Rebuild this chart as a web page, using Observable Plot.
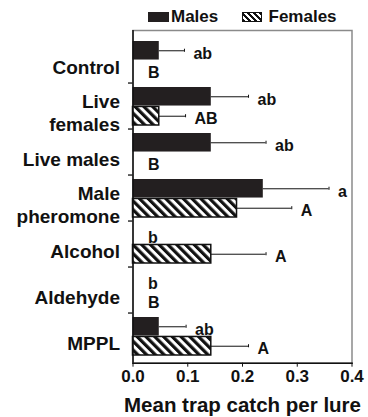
<!DOCTYPE html>
<html><head><meta charset="utf-8">
<script src="https://cdn.jsdelivr.net/npm/d3@7"></script>
<script src="https://cdn.jsdelivr.net/npm/@observablehq/plot@0.6"></script>
<style>
body{margin:0;background:#fff;font-family:"Liberation Sans",Arial,Helvetica,sans-serif;}
#wrap{position:relative;width:368px;height:417px;}
#legend{position:absolute;top:0;left:0;width:368px;height:30px;font-weight:bold;font-size:17px;color:#111;}
.item{position:absolute;top:7px;height:20px;display:flex;align-items:center;}
.sw{display:inline-block;width:21px;height:10px;margin-right:2px;box-sizing:border-box;}
</style></head><body>
<div id="wrap"><div id="legend"></div></div>
<script>
const categories = ["Control","Live females","Live males","Male pheromone","Alcohol","Aldehyde","MPPL"];
const categoryLabels = ["Control","Live\nfemales","Live males","Male\npheromone","Alcohol","Aldehyde","MPPL"];
const series = ["Males","Females"];
const maleMean = [0.048, 0.143, 0.143, 0.238, 0, 0, 0.048];
const maleErr  = [0.046, 0.068, 0.100, 0.120, 0, 0, 0.049];
const femaleMean = [0, 0.048, 0, 0.190, 0.143, 0, 0.143];
const femaleErr  = [0, 0.048, 0, 0.100, 0.100, 0, 0.068];
const maleLetters = ["ab","ab","ab","a","b","b","ab"];
const femaleLetters = ["B","AB","B","A","A","B","A"];
const xTicks = [0, 0.1, 0.2, 0.3, 0.4];
const xLabel = "Mean trap catch per lure";

const males = categories.map((c,i)=>({cat:c, mean:maleMean[i], err:maleErr[i], letter:maleLetters[i]}));
const females = categories.map((c,i)=>({cat:c, mean:femaleMean[i], err:femaleErr[i], letter:femaleLetters[i]}));
const labelOf = new Map(categories.map((c,i)=>[c, categoryLabels[i]]));

const W = 368, H = 417, mL = 132.5, mR = 16.5, mT = 30, mB = 54.3, inTop = 4.2;
const BW = (H - mB - mT - inTop) / categories.length;
const pad = 4, barH = (BW - 2*pad) / 2;
const off = barH / 2; // offset of each bar centre from band centre
const capH = 4;
const end = d => d.mean + d.err;

const svg = Plot.plot({
  width: W, height: H,
  marginLeft: mL, marginRight: mR, marginTop: mT, marginBottom: mB,
  style: {fontFamily: '"Liberation Sans", Arial, sans-serif', fontWeight: "bold", fontSize: "16px", color: "#111"},
  x: {domain: [0, 0.4]},
  y: {domain: categories, padding: 0, insetTop: inTop, axis: null, label: null},
  marks: [
    Plot.frame({stroke: "#8a8a8a", strokeWidth: 1.5}),
    Plot.barX(males, {y: "cat", x: "mean", fill: "#231f20", insetTop: pad, insetBottom: pad + barH}),
    Plot.barX(females.filter(d => d.mean > 0), {y: "cat", x: "mean", fill: "url(#hatch)", stroke: "#111", strokeWidth: 1.5, insetTop: pad + barH, insetBottom: pad}),
    Plot.ruleY(males.filter(d => d.err > 0), {y: "cat", x1: "mean", x2: end, dy: -off, stroke: "#111", strokeWidth: 1}),
    Plot.ruleY(females.filter(d => d.err > 0), {y: "cat", x1: "mean", x2: end, dy: off, stroke: "#111", strokeWidth: 1}),
    Plot.tickX(males.filter(d => d.err > 0), {y: "cat", x: end, stroke: "#111", strokeWidth: 1, insetTop: BW/2 - off - capH/2, insetBottom: BW/2 + off - capH/2}),
    Plot.tickX(females.filter(d => d.err > 0), {y: "cat", x: end, stroke: "#111", strokeWidth: 1, insetTop: BW/2 + off - capH/2, insetBottom: BW/2 - off - capH/2}),
    Plot.text(males.filter(d => d.err > 0), {y: "cat", x: end, text: "letter", textAnchor: "start", dx: 9, dy: -off + 3, fontSize: 16, fill: "#111"}),
    Plot.text(males.filter(d => d.err === 0), {y: "cat", x: end, text: "letter", textAnchor: "start", dx: 15, dy: -off + 3, fontSize: 16, fill: "#111"}),
    Plot.text(females.filter(d => d.err > 0), {y: "cat", x: end, text: "letter", textAnchor: "start", dx: 9, dy: off + 3, fontSize: 16, fill: "#111"}),
    Plot.text(females.filter(d => d.err === 0), {y: "cat", x: end, text: "letter", textAnchor: "start", dx: 15, dy: off + 3, fontSize: 16, fill: "#111"}),
    Plot.ruleY(categories.slice(1), {y: d => d, x1: 0, x2: 0, dy: -BW/2, insetLeft: -4.5, stroke: "#111", strokeWidth: 1.3}),
    Plot.ruleX([0], {stroke: "#111", strokeWidth: 1.5}),
    Plot.frame({anchor: "bottom", stroke: "#111", strokeWidth: 1.5}),
    Plot.axisY({tickSize: 0, tickPadding: 13, fontSize: 19, lineHeight: 1.2, tickFormat: d => labelOf.get(d), dy: 6, label: null}),
    Plot.axisX({ticks: xTicks, tickFormat: d3.format(".1f"), tickSize: 4, tickPadding: 3, fontSize: 17, label: null}),
    Plot.text([xLabel], {frameAnchor: "bottom", lineAnchor: "top", dy: 34, fontSize: 20.5, fill: "#111"})
  ]
});
const ns = "http://www.w3.org/2000/svg";
const defs = document.createElementNS(ns, "defs");
defs.innerHTML = '<pattern id="hatch" patternUnits="userSpaceOnUse" width="6.2" height="6.2" patternTransform="rotate(-45)"><rect width="6.2" height="6.2" fill="white"/><rect width="3.2" height="6.2" fill="#111"/></pattern>';
svg.insertBefore(defs, svg.firstChild);
document.getElementById("wrap").appendChild(svg);

// legend
const legend = document.getElementById("legend");
const legendLeft = [148, 241.5];
series.forEach((s, i) => {
  const it = document.createElement("div");
  it.className = "item";
  it.style.left = legendLeft[i] + "px";
  const sw = document.createElement("span");
  sw.className = "sw";
  if (i === 0) sw.style.background = "#231f20";
  else { sw.style.background = "repeating-linear-gradient(45deg,#111 0 2px,#fff 2px 4.2px)"; sw.style.border = "1.5px solid #111"; sw.style.width = "20px"; sw.style.marginRight = "7px"; }
  it.appendChild(sw);
  const t = document.createElement("span");
  t.textContent = s;
  it.appendChild(t);
  legend.appendChild(it);
});
</script>
</body></html>
